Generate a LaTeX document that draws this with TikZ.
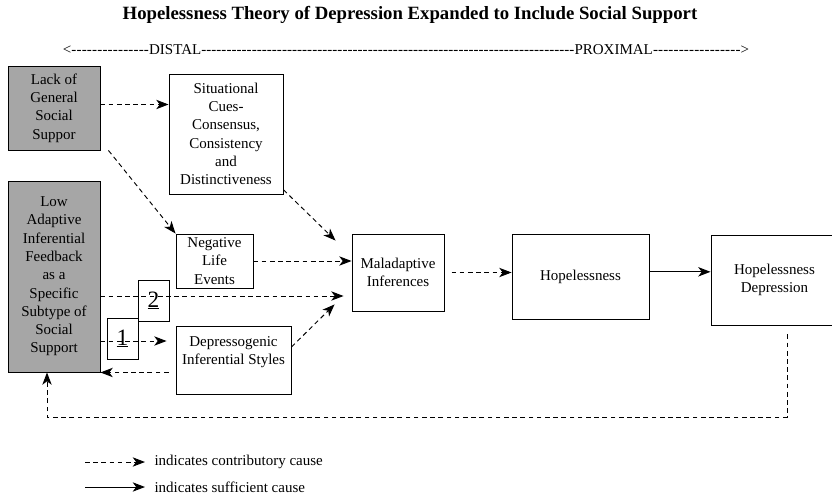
\documentclass[tikz,border=0pt]{standalone}
\usepackage{fontspec}
\setmainfont{Liberation Serif}
\usetikzlibrary{arrows.meta,calc,positioning}

\begin{document}
\begin{tikzpicture}[x=0.03cm,y=-0.03cm,>={Stealth[length=10.5pt,width=8pt,inset=3pt]},font=\fontsize{12.8}{15.6}\selectfont]
				\tikzstyle{box}=[draw,line width=0.8pt,align=center,inner sep=1pt]
				\tikzstyle{gray box}=[box,fill=black!35]
				\tikzstyle{num}=[draw,line width=0.8pt,minimum width=0.93cm,minimum height=1.23cm,inner sep=0pt,font=\fontsize{20}{20}\selectfont]
				\tikzstyle{cause}=[->,line width=0.8pt,dash pattern=on 4pt off 3pt]
				\tikzstyle{sufficient}=[->,line width=0.8pt]
				\useasboundingbox (0,0) rectangle (832,497);
				%Heading
				\node (title) at (410,15) {\fontsize{16}{16}\selectfont\bfseries Hopelessness Theory of Depression Expanded to Include Social Support};
				\node (scale) at (406,50) {<\xleaders\hbox{-}\hskip 66.5pt DISTAL\xleaders\hbox{-}\hskip 318.6pt PROXIMAL\xleaders\hbox{-}\hskip 75pt>};
				%Left column
				\node[gray box,minimum width=2.76cm,minimum height=2.52cm](lack) at (54,108){Lack of\\General\\Social\\Suppor};
				\node[gray box,minimum width=2.76cm,minimum height=5.73cm](low) at (54,276.5){Low\\Adaptive\\Inferential\\Feedback\\as a\\Specific\\Subtype of\\Social\\Support};
				%Middle column
				\node[box,minimum width=3.42cm,minimum height=3.6cm](situ) at (226,134){Situational\\Cues-\\Consensus,\\Consistency\\and\\Distinctiveness};
				\node[box,minimum width=2.31cm,minimum height=1.62cm](neg) at (214.5,261){Negative\\Life\\Events};
				\node[box,minimum width=3.45cm,minimum height=2.04cm](dep) at (233.5,360){Depressogenic\\Inferential Styles\\~};
				\node[num](two) at (153.5,300.5){\underline{2}};
				\node[num](one) at (122.5,338.5){\underline{1}};
				%Right side
				\node[box,minimum width=2.76cm,minimum height=2.31cm](mal) at (398,272.5){Maladaptive\\Inferences};
				\node[box,minimum width=4.11cm,minimum height=2.55cm](hop) at (580.5,276.5){Hopelessness};
				\node[box,minimum width=3.81cm,minimum height=2.7cm](hd) at (774.5,280){Hopelessness\\Depression};
				%Causes
				\coordinate (m2) at ($(mal.west)+(-8,23.5)$);
				\coordinate (d1) at ($(dep.west)+(-9,-19)$);
				\coordinate (back) at (47,417);
				\draw[cause] ([yshift=3pt]lack.east) -- ([yshift=3pt]lack.east -| situ.west);
				\draw[cause] ([xshift=0.24cm]lack.south east) -- (neg.north west);
				\draw[cause] ([yshift=4pt]situ.south east) -- ($(mal.north west)+(-16,7)$);
				\draw[cause] (neg.east) -- (neg.east -| mal.west);
				\draw[cause] (low.east |- m2) -- (m2);
				\draw[cause] (low.east |- d1) -- (d1);
				\draw[cause] ($(dep.east)+(0,-13)$) -- ($(mal.south west)+(-17,-7)$);
				\draw[cause] ($(low.south east -| dep.west)+(-7,0)$) -- (low.south east);
				\draw[cause] ([xshift=6pt]mal.east) -- (mal.east -| hop.west);
				\draw[sufficient] ([yshift=4pt]hop.east) -- ([yshift=4pt]hop.east -| hd.west);
				\draw[cause] ($(hd.south)+(12.5,9)$) |- (back) -- (back |- low.south);
				%Legend
				\coordinate (k1) at (85,462);
				\coordinate (k2) at (85,487);
				\node[anchor=west,inner sep=2pt](c1) at (152,462){indicates contributory cause};
				\node[anchor=west,inner sep=2pt](c2) at (152,487){indicates sufficient cause};
				\draw[cause] (k1) -- ([xshift=-6pt]c1.west);
				\draw[sufficient] (k2) -- ([xshift=-6pt]c2.west);
\end{tikzpicture}
\end{document}
